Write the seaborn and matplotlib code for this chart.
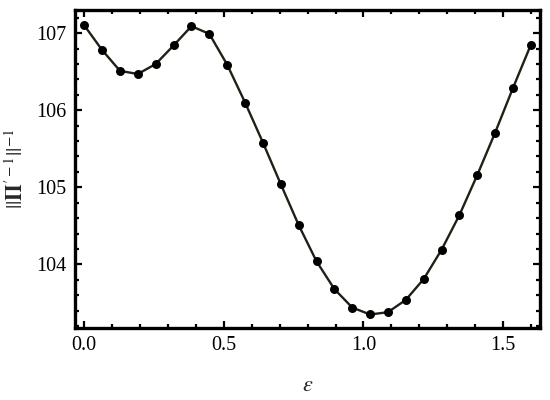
import numpy as np
import pandas as pd
import seaborn as sns
import matplotlib.pyplot as plt
import matplotlib as mpl

# data
eps = [0.000, 0.064, 0.128, 0.192, 0.256, 0.320, 0.384, 0.448, 0.512,
       0.576, 0.640, 0.704, 0.768, 0.832, 0.896, 0.960, 1.024, 1.088,
       1.152, 1.216, 1.280, 1.344, 1.408, 1.472, 1.536, 1.600]
inv_norm = [107.10, 106.78, 106.51, 106.47, 106.60, 106.84, 107.09, 106.99,
            106.59, 106.10, 105.58, 105.04, 104.51, 104.04, 103.68, 103.44,
            103.35, 103.38, 103.54, 103.81, 104.19, 104.64, 105.16, 105.71,
            106.29, 106.85]

df = pd.DataFrame({"eps": eps, "val": inv_norm})

sns.set_theme(style="ticks")
plt.rcParams["font.family"] = ["Liberation Serif", "DejaVu Serif"]
plt.rcParams["mathtext.fontset"] = "stix"

fig = plt.figure(figsize=(5.5, 4), dpi=100)
ax = fig.add_axes([0.136, 0.181, 0.846, 0.794])

sns.lineplot(data=df, x="eps", y="val", ax=ax, color="#1c2314", linewidth=1.7)
sns.scatterplot(data=df, x="eps", y="val", ax=ax, color="black", s=42,
                edgecolor="black", linewidth=0, zorder=3)

ax.set_xlim(-0.034, 1.633)
ax.set_ylim(103.18, 107.30)
ax.xaxis.set_major_locator(mpl.ticker.MultipleLocator(0.5))
ax.xaxis.set_minor_locator(mpl.ticker.MultipleLocator(0.1))
ax.yaxis.set_major_locator(mpl.ticker.MultipleLocator(1))
ax.yaxis.set_minor_locator(mpl.ticker.MultipleLocator(0.2))
ax.xaxis.set_major_formatter(mpl.ticker.FormatStrFormatter("%.1f"))

ax.tick_params(which="both", direction="in", top=True, right=True,
               colors="black", labelsize=14.5, width=1.6)
ax.tick_params(which="major", length=5, pad=6)
ax.tick_params(which="minor", length=3)

for side in ax.spines:
    ax.spines[side].set_linewidth(2.4)
    ax.spines[side].set_color("black")

ax.set_xlabel(r"$\varepsilon$", fontsize=16, labelpad=16)
ax.set_ylabel(r"$||\mathbf{\Pi}^{\prime -1}||^{-1}$", fontsize=15.5, labelpad=6)

fig.savefig("out.png", dpi=100)
